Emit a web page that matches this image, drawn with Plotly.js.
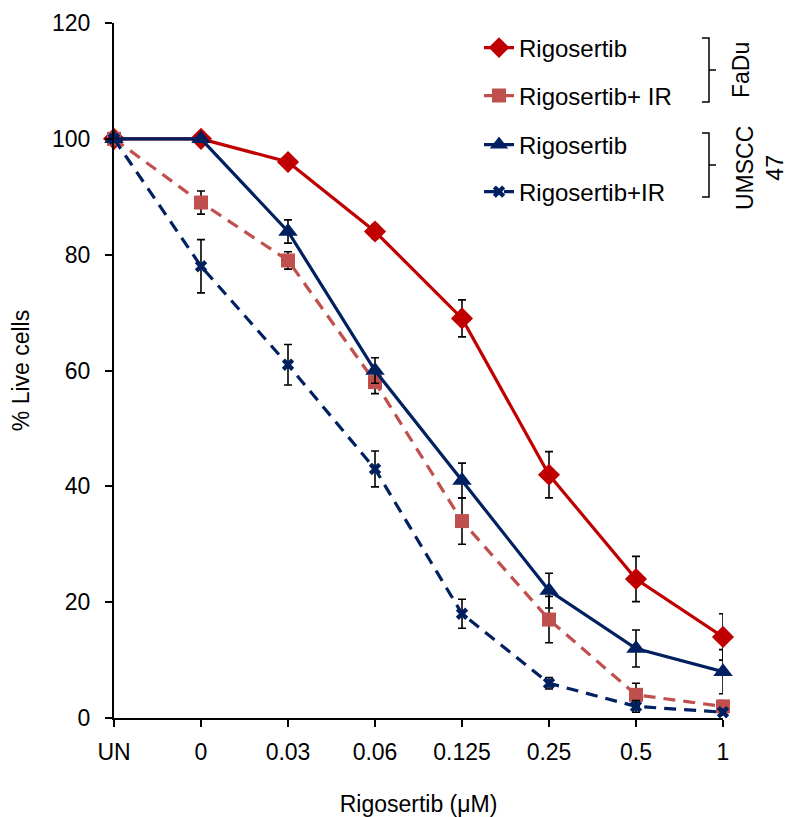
<!DOCTYPE html>
<html>
<head>
<meta charset="utf-8">
<script src="https://cdn.plot.ly/plotly-3.0.1.min.js"></script>
<style>html,body{margin:0;padding:0;background:#fff;}</style>
</head>
<body>
<div id="chart" style="width:790px;height:817px;"></div>
<script>
// Categories (x axis)
const doses = ["UN", "0", "0.03", "0.06", "0.125", "0.25", "0.5", "1"];

// FaDu
const fadu = [100, 100, 96, 84, 69, 42, 24, 14];
const faduErr = [null, null, null, 1.2, 3.2, 4, 3.9, 4];
const faduIR = [100, 89, 79, 58, 34, 17, 4, 2];
const faduIRErr = [null, 2, 1.5, 2, 4, 4, 2, 1];

// UMSCC 47
const umscc = [100, 100, 84, 60, 41, 22, 12, 8];
const umsccErr = [null, null, 2, 2.2, 3, 3, 3.2, 3.8];
const umsccIR = [100, 78, 61, 43, 18, 6, 2, 1];
const umsccIRErr = [null, 4.6, 3.5, 3.1, 2.5, 1, 1, 0.5];

const labels = ["Rigosertib", "Rigosertib+ IR", "Rigosertib", "Rigosertib+IR"];

const RED = "#C00000", PINK = "#C0504D", NAVY = "#002060";

function err(arr) {
  return {type: "data", array: arr, visible: true, color: "#000", thickness: 1.6, width: 4};
}

const traces = [
  {x: doses, y: fadu, name: labels[0], legend: "legend", mode: "lines+markers", cliponaxis: false,
   line: {color: RED, width: 3.2}, marker: {symbol: "diamond", size: 17, color: RED}, error_y: err(faduErr)},
  {x: doses, y: faduIR, name: labels[1], legend: "legend2", mode: "lines+markers", cliponaxis: false,
   line: {color: PINK, width: 3.2, dash: "12px,8px"}, marker: {symbol: "square", size: 14, color: PINK}, error_y: err(faduIRErr)},
  {x: doses, y: umscc, name: labels[2], legend: "legend3", mode: "lines+markers", cliponaxis: false,
   line: {color: NAVY, width: 3.2}, marker: {symbol: "triangle-up", size: 17, color: NAVY}, error_y: err(umsccErr)},
  {x: doses, y: umsccIR, name: labels[3], legend: "legend4", mode: "lines+markers", cliponaxis: false,
   line: {color: NAVY, width: 3.2, dash: "12px,8px"}, marker: {symbol: "x", size: 11, color: NAVY}, error_y: err(umsccIRErr)}
];

// pixel helpers for annotation/shape placement
const L = 114, R = 723, T = 23, B = 718;
const px = v => (v - L) / (R - L);
const py = v => (B - v) / (B - T);

const FAM = "Liberation Sans, Arial, sans-serif";
const font = {family: FAM, size: 23, color: "#000"};
const legFont = {family: FAM, size: 24, color: "#000"};
const sideFont = {family: FAM, size: 23, color: "#000"};

function leg(rowY) {
  return {x: px(479), xanchor: "left", y: py(rowY), yanchor: "middle", xref: "paper", yref: "paper",
          bgcolor: "rgba(0,0,0,0)", borderwidth: 0, font: legFont};
}

function bracket(top, bottom) {
  const mid = (top + bottom) / 2;
  return {type: "path", xref: "paper", yref: "paper",
    path: `M ${px(702)},${py(top)} L ${px(709)},${py(top)} L ${px(709)},${py(mid)} L ${px(716)},${py(mid)} M ${px(709)},${py(mid)} L ${px(709)},${py(bottom)} L ${px(702)},${py(bottom)}`,
    line: {color: "#000", width: 1.5}};
}

const layout = {
  width: 790, height: 817,
  margin: {l: L, r: 790 - R, t: T, b: 817 - B, pad: 0},
  paper_bgcolor: "#fff", plot_bgcolor: "#fff",
  font: font,
  showlegend: true,
  legend: leg(48), legend2: leg(96), legend3: leg(145), legend4: leg(192),
  xaxis: {
    type: "category", range: [0, 7], showgrid: false, zeroline: false,
    showline: true, linecolor: "#000", linewidth: 2,
    ticks: "outside", ticklen: 7, tickwidth: 2, tickcolor: "#000",
    ticklabelstandoff: 5,
    tickfont: font,
    title: {text: "Rigosertib (μM)", font: font, standoff: 33}
  },
  yaxis: {
    range: [0, 120], dtick: 20, showgrid: false, zeroline: false,
    showline: true, linecolor: "#000", linewidth: 2,
    ticks: "outside", ticklen: 7, tickwidth: 2, tickcolor: "#000",
    ticklabelstandoff: 10,
    tickfont: font,
    title: {text: "% Live cells", font: font, standoff: 16}
  },
  shapes: [bracket(38, 102), bracket(133, 197)],
  annotations: [
    {text: "FaDu", xref: "paper", yref: "paper", x: px(741), y: py(70), textangle: -90,
     showarrow: false, font: sideFont, xanchor: "center", yanchor: "middle"},
    {text: "UMSCC<br>47", xref: "paper", yref: "paper", x: px(760), y: py(168), textangle: -90,
     showarrow: false, font: sideFont, xanchor: "center", yanchor: "middle"}
  ]
};

Plotly.newPlot("chart", traces, layout, {displayModeBar: false, responsive: false});
</script>
</body>
</html>
